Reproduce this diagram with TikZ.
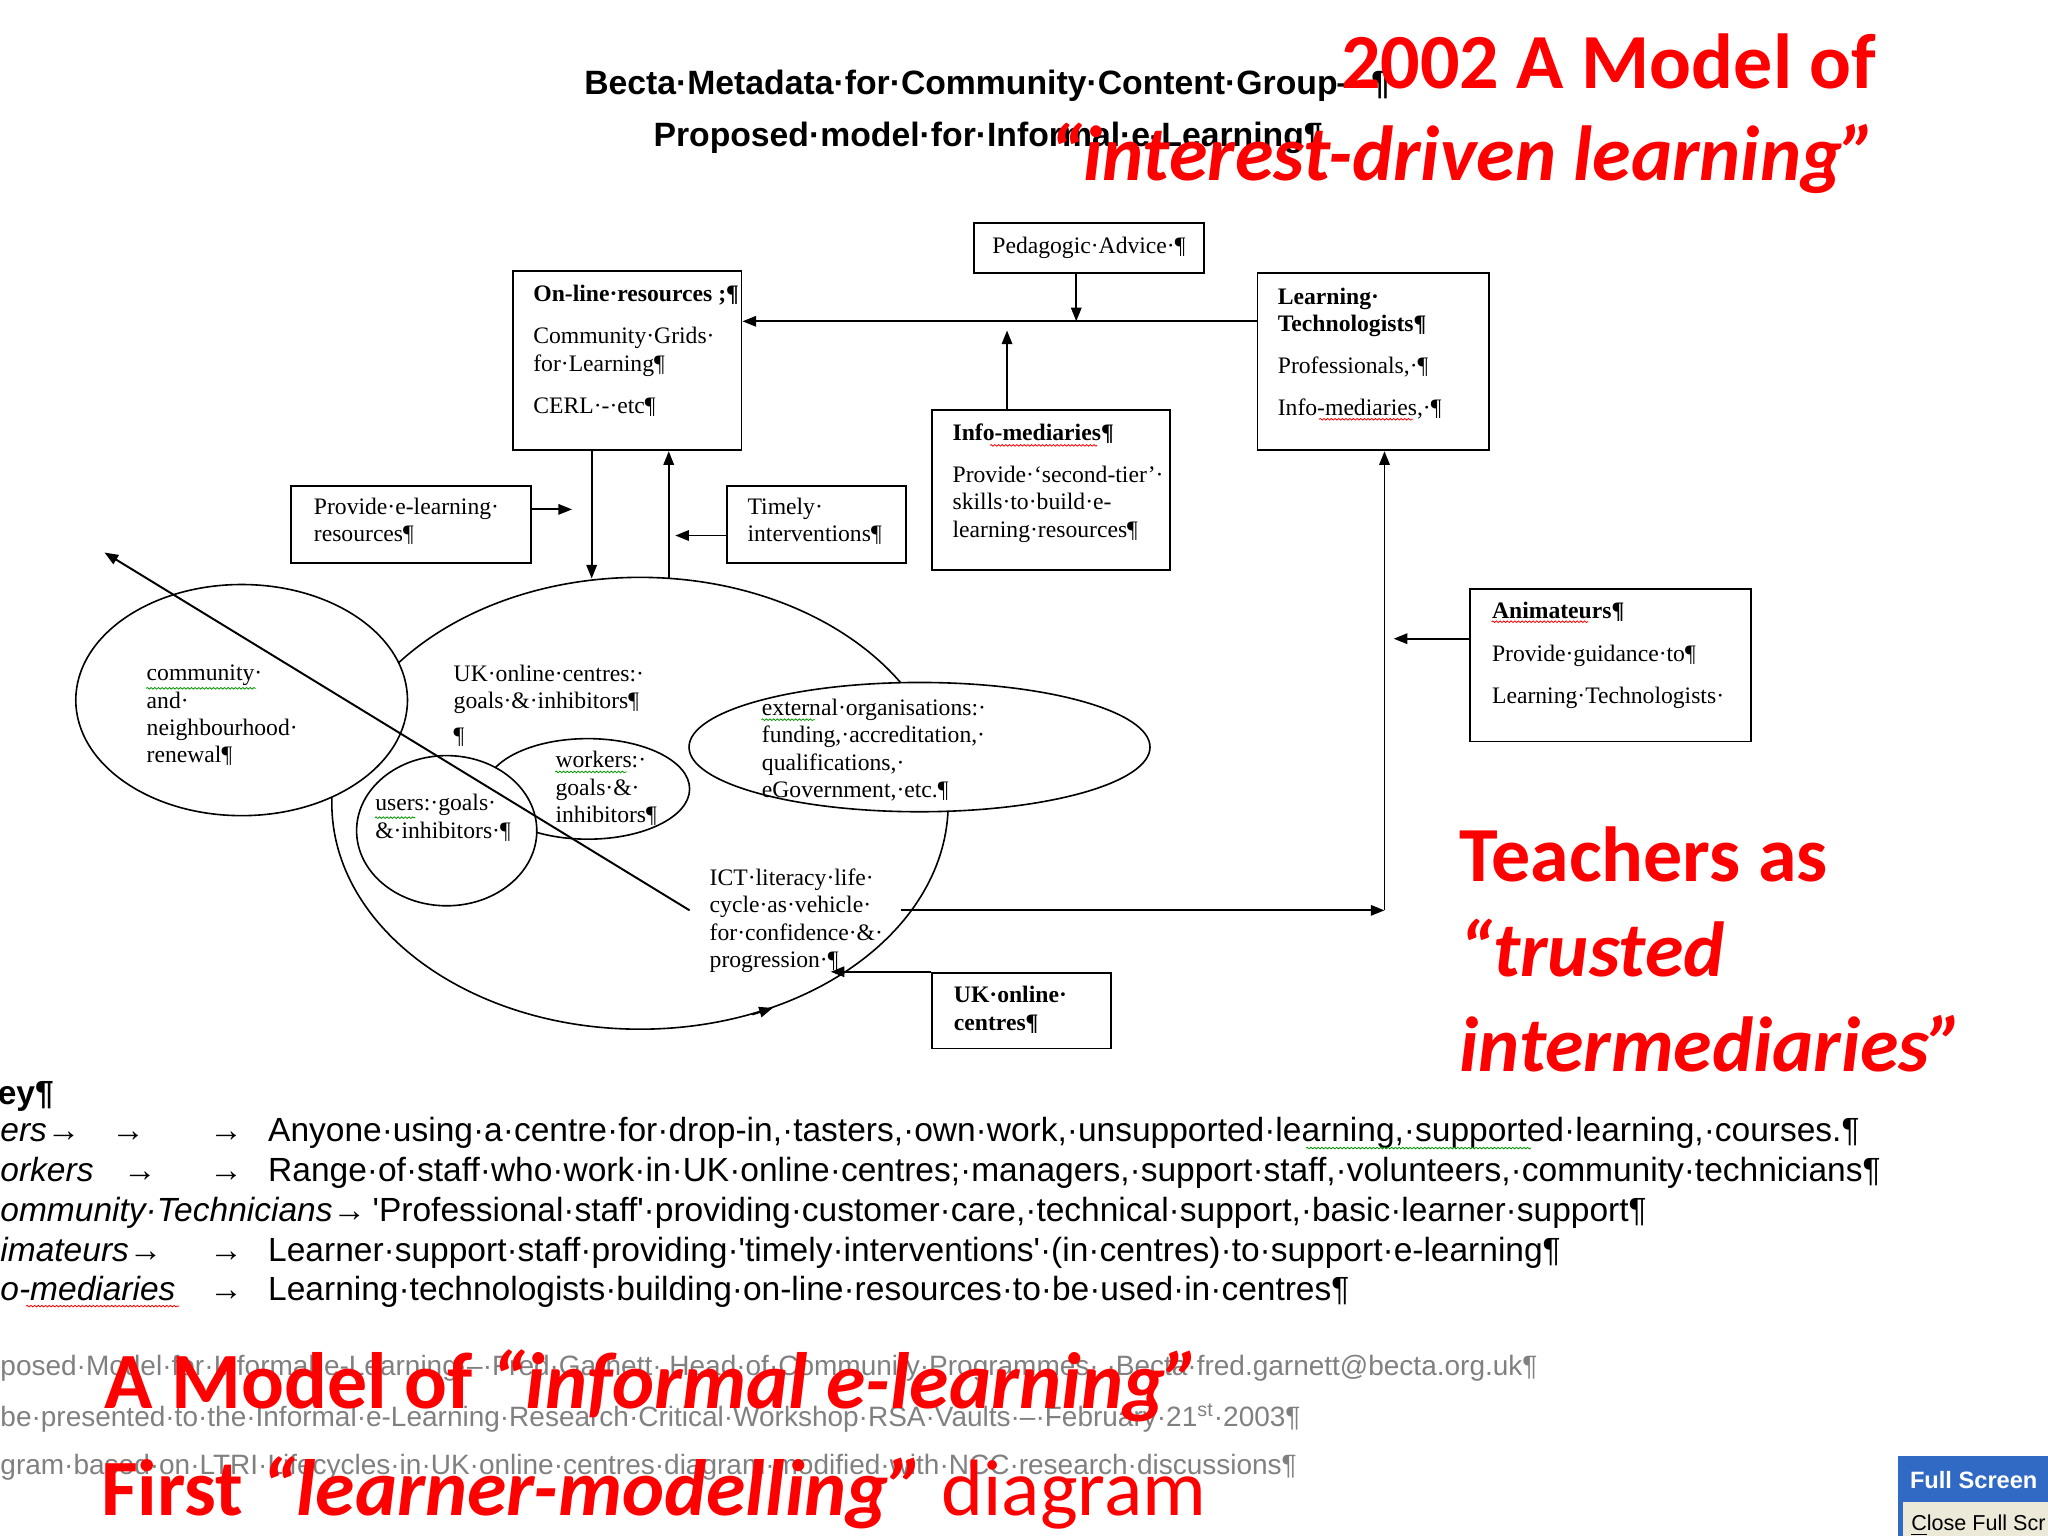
\documentclass[tikz,border=0pt]{standalone}
\usepackage{fontspec}
\setmainfont{Liberation Serif}
\newfontfamily\arialfont{Liberation Sans}
\newfontfamily\slidefont{Carlito}
\usepackage{tikz}
\usetikzlibrary{positioning}
\usetikzlibrary{arrows.meta,shapes.geometric,decorations.pathmorphing}
\definecolor{slidered}{RGB}{255,0,0}
\definecolor{footgray}{RGB}{128,128,128}
\definecolor{xpblue}{RGB}{49,106,197}
\definecolor{xpface}{RGB}{236,233,216}
\definecolor{spellgreen}{RGB}{0,150,0}

\begin{document}
\begin{tikzpicture}
    [x=0.02cm, y=-0.02cm,
     box/.style = {draw, line width=0.85pt, anchor=north west, inner sep=0pt, font=\fontsize{10.3}{11.9}\selectfont},
     boxtext/.style = {anchor=north west, inner sep=0pt, align=left, font=\fontsize{10.3}{11.9}\selectfont},
     ring/.style = {draw, ellipse, line width=0.7pt, inner sep=0pt, fill=white},
     arr/.style = {-{Triangle[length=2.1mm,width=1.6mm]}, line width=0.85pt},
     squig/.style = {draw=#1, line width=0.35pt, decorate, decoration={snake, amplitude=0.35pt, segment length=1.6pt}},
     key/.style = {anchor=base west, inner sep=0pt, font=\arialfont\fontsize{14.6}{17}\selectfont},
     foot/.style = {anchor=base west, inner sep=0pt, text=footgray, font=\arialfont\fontsize{12.2}{14}\selectfont},
     slide/.style = {anchor=base west, inner sep=0pt, text=slidered, font=\slidefont\bfseries\fontsize{34}{41}\selectfont}]

    \useasboundingbox (0,0) rectangle (1568,1176);

    % headings of the word page
    \node[anchor=base west, inner sep=0pt, font=\arialfont\bfseries\fontsize{14.7}{17}\selectfont] (becta) at (447,72) {Becta·Metadata·for·Community·Content·Group—¶};
    \node[anchor=base west, inner sep=0pt, font=\arialfont\bfseries\fontsize{14.7}{17}\selectfont] (proposed) at (500,112) {Proposed·model·for·Informal·e-Learning¶};

    % boxes
    \node[box, minimum width=3.52cm, minimum height=0.76cm] (advice) at (745,170) {Pedagogic·Advice·¶};
    \node[box, minimum width=3.5cm, minimum height=2.74cm] (resources) at (392,207) {};
    \node[box, minimum width=3.54cm, minimum height=2.72cm] (technologists) at (962,208) {};
    \node[box, minimum width=3.64cm, minimum height=2.46cm] (infomed) at (713,313) {};
    \node[box, minimum width=3.68cm, minimum height=1.18cm] (provide) at (222,371) {};
    \node[box, minimum width=2.74cm, minimum height=1.18cm] (timely) at (556,371) {};
    \node[box, minimum width=4.3cm, minimum height=2.34cm] (animateurs) at (1125,450) {};
    \node[box, minimum width=2.74cm, minimum height=1.16cm] (centresbox) at (713,744) {};

    \node[boxtext] (resources text) at (408,218) {\textbf{On-line·resources ;¶}\\[6.5pt] Community·Grids·\\ for·Learning¶\\[6.5pt] CERL·-·etc¶};
    \node[boxtext] (technologists text) at (978,220) {\textbf{Learning·}\\ \textbf{Technologists¶}\\[6.5pt] Professionals,·¶\\[6.5pt] Info-mediaries,·¶};
    \node[boxtext] (infomed text) at (729,324) {\textbf{Info-mediaries¶}\\[6.5pt] Provide·‘second-tier’·\\ skills·to·build·e-\\ learning·resources¶};
    \node[boxtext] (provide text) at (240,381) {Provide·e-learning·\\ resources¶};
    \node[boxtext] (timely text) at (572,381) {Timely·\\ interventions¶};
    \node[boxtext] (animateurs text) at (1142,461) {\textbf{Animateurs¶}\\[6.5pt] Provide·guidance·to¶\\[6.5pt] Learning·Technologists·};
    \node[boxtext] (centresbox text) at (730,755) {\textbf{UK·online·}\\ \textbf{centres¶}};

    % ellipses
    \node[ring, minimum width=9.44cm, minimum height=6.92cm] (centres) at (490,615) {};
    \node[ring, minimum width=3.12cm, minimum height=1.54cm] (workers) at (450,604) {};
    \node[ring, minimum width=2.76cm, minimum height=2.3cm] (users) at (342,636) {};
    \node[ring, minimum width=5.08cm, minimum height=3.54cm] (community) at (185,536) {};
    \node[ring, minimum width=7.06cm, minimum height=1.98cm] (external) at (704,572) {};

    \node[boxtext] (community text) at (112,509) {community·\\ and·\\ neighbourhood·\\ renewal¶};
    \node[boxtext] (centres text) at (347,509) {UK·online·centres:·\\ goals·\&·inhibitors¶\\[3pt] ¶};
    \node[boxtext] (external text) at (583,535) {external·organisations:·\\ funding,·accreditation,·\\ qualifications,·\\ eGovernment,·etc.¶};
    \node[boxtext] (users text) at (287,608) {users:·goals·\\ \&·inhibitors·¶};
    \node[boxtext] (workers text) at (425,575) {workers:·\\ goals·\&·\\ inhibitors¶};
    \node[boxtext] (ict text) at (543,665) {ICT·literacy·life·\\ cycle·as·vehicle·\\ for·confidence·\&·\\ progression·¶};

    % spelling marks
    \draw[squig=spellgreen] (112,527) -- (196,527);
    \draw[squig=spellgreen] (287,626) -- (318,626);
    \draw[squig=spellgreen] (425,591) -- (480,591);
    \draw[squig=spellgreen] (583,551) -- (624,551);
    \draw[squig=red] (758,341) -- (840,341);
    \draw[squig=red] (1010,321) -- (1082,321);
    \draw[squig=red] (1142,476) -- (1216,476);

    % connectors
    \coordinate (junction) at (824,246);
    \coordinate (upend) at (771,253);
    \coordinate (downx) at (453,443);
    \coordinate (upx) at (512,443);
    \coordinate (provideend) at (438,390);
    \coordinate (timelyend) at (517,410);
    \coordinate (diagstart) at (528,697);
    \coordinate (diagend) at (80,423);
    \coordinate (ictout) at (690,697);
    \coordinate (corner) at (1060,697);
    \coordinate (animend) at (1067,489);
    \coordinate (centresend) at (636,744);

    \draw[arr] (advice.south -| junction) -- (junction);
    \draw[arr] (technologists.west |- junction) -- (resources.east |- junction);
    \draw[arr] (infomed.north -| upend) -- (upend);
    \draw[arr] (resources.south -| downx) -- (downx);
    \draw[arr] (upx) -- (resources.south -| upx);
    \draw[arr] (provide.east |- provideend) -- (provideend);
    \draw[arr] (timely.west |- timelyend) -- (timelyend);
    \draw[arr] (diagstart) -- (diagend);
    \draw[arr] (ictout) -- (corner);
    \draw[arr] (corner) -- (technologists.south -| corner);
    \draw[arr] (animateurs.west |- animend) -- (animend);
    \draw[arr] (centresbox.north west) -- (centresend);
    \draw[arr] (centres.-62) -- (centres.-57);

    % key
    \node[key, font=\arialfont\bfseries\fontsize{14.6}{17}\selectfont] (keyhead) at (-2,846) {ey¶};
    \node[key] (k1a) at (0,874) {\itshape ers→};
    \node[key] (k1b) at (85,874) {→};
    \node[key] (k1c) at (160,874) {→};
    \node[key] (k1d) at (205,874) {Anyone·using·a·centre·for·drop-in,·tasters,·own·work,·unsupported·learning,·supported·learning,·courses.¶};
    \node[key] (k2a) at (0,904.5) {\itshape orkers};
    \node[key] (k2b) at (94,904.5) {→};
    \node[key] (k2c) at (160,904.5) {→};
    \node[key] (k2d) at (205,904.5) {Range·of·staff·who·work·in·UK·online·centres;·managers,·support·staff,·volunteers,·community·technicians¶};
    \node[key] (k3a) at (0,935) {\itshape ommunity·Technicians→};
    \node[key] (k3d) at (285,935) {'Professional·staff'·providing·customer·care,·technical·support,·basic·learner·support¶};
    \node[key] (k4a) at (0,965.5) {\itshape imateurs→};
    \node[key] (k4c) at (160,965.5) {→};
    \node[key] (k4d) at (205,965.5) {Learner·support·staff·providing·'timely·interventions'·(in·centres)·to·support·e-learning¶};
    \node[key] (k5a) at (0,996) {\itshape o-mediaries};
    \node[key] (k5c) at (160,996) {→};
    \node[key] (k5d) at (205,996) {Learning·technologists·building·on-line·resources·to·be·used·in·centres¶};
    \draw[squig=spellgreen] (1000,879) -- (1172,879);
    \draw[squig=red] (20,1000) -- (137,1000);

    % footer of the page
    \node[foot] (foot1) at (0,1053) {posed·Model·for·Informal·e-Learning·–·Fred·Garnett·,Head·of·Community·Programmes·,·Becta·fred.garnett@becta.org.uk¶};
    \node[foot] (foot2) at (0,1092) {be·presented·to·the·Informal·e-Learning·Research·Critical·Workshop·RSA·Vaults·–·February·21\textsuperscript{st}·2003¶};
    \node[foot] (foot3) at (0,1129) {gram·based·on·LTRI·Lifecycles·in·UK·online·centres·diagram·modified·with·NCC·research·discussions¶};

    % slide captions
    \node[slide, anchor=base east] (yeartitle) at (1437,68) {2002 A Model of};
    \node[slide, anchor=base east] (interest) at (1437,138) {\itshape “interest-driven learning”};
    \node[slide] (teachers) at (1117,675) {Teachers as};
    \node[slide] (trusted) at (1117,748) {\itshape “trusted};
    \node[slide] (intermed) at (1117,820) {\itshape intermediaries”};
    \node[slide, font=\slidefont\bfseries\fontsize{34.8}{41}\selectfont] (modelline) at (80,1078) {A Model of \textit{“informal e-learning”}};
    \node[slide, font=\slidefont\bfseries\fontsize{34.8}{41}\selectfont] (firstline) at (77,1160) {First \textit{“learner-modelling”} \mdseries diagram};

    % full screen toolbar
    \fill[xpblue] (1453,1115) rectangle (1568,1176);
    \fill[xpface] (1457,1150) rectangle (1568,1176);
    \node[anchor=base west, inner sep=0pt, text=white, font=\arialfont\bfseries\fontsize{10.3}{12}\selectfont] (fullscreen) at (1462,1140) {Full Screen};
    \node[anchor=base west, inner sep=0pt, font=\arialfont\fontsize{9.4}{11}\selectfont] (closefull) at (1463,1172) {\underline{C}lose Full Scr};
\end{tikzpicture}
\end{document}
